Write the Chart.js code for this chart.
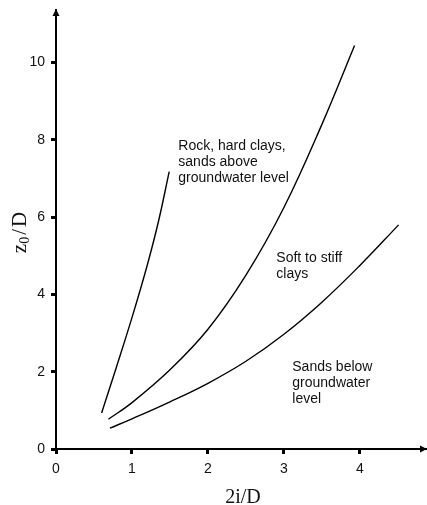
<!DOCTYPE html>
<html>
<head>
<meta charset="utf-8">
<script src="https://cdn.jsdelivr.net/npm/chart.js@4.4.1/dist/chart.umd.min.js"></script>
<style>
  body { margin: 0; background: #fff; }
  #wrap { width: 427px; height: 505px; position: relative; }
</style>
</head>
<body>
<div id="wrap"><canvas id="chart"></canvas></div>
<script>
// tick labels
const xTicks = [0, 1, 2, 3, 4];
const yTicks = [0, 2, 4, 6, 8, 10];

// curves (2i/D, z0/D)
const rockX = [0.60, 0.80, 1.00, 1.20, 1.35, 1.49];
const rockY = [0.93, 2.15, 3.40, 4.75, 5.90, 7.18];
const softX = [0.69, 1.00, 1.50, 2.00, 2.50, 3.00, 3.50, 3.93];
const softY = [0.77, 1.20, 2.05, 3.10, 4.50, 6.25, 8.40, 10.44];
const sandX = [0.71, 1.00, 1.50, 2.00, 2.50, 3.00, 3.50, 4.00, 4.51];
const sandY = [0.54, 0.78, 1.22, 1.70, 2.27, 2.97, 3.80, 4.75, 5.80];

const rockLabel = ['Rock, hard clays,', 'sands above', 'groundwater level'];
const softLabel = ['Soft to stiff', 'clays'];
const sandLabel = ['Sands below', 'groundwater', 'level'];

const SANS = '"Liberation Sans", Arial, sans-serif';
const SERIF = '"Liberation Serif", "Times New Roman", serif';

function toPoints(xs, ys) {
    return xs.map((v, i) => ({ x: v, y: ys[i] }));
}

function curve(xs, ys) {
    return {
        data: toPoints(xs, ys),
        showLine: true,
        borderColor: '#000',
        borderWidth: 1.4,
        pointRadius: 0,
        tension: 0.4,
        fill: false
    };
}

// notes are anchored in data units
const notes = [
    { lines: rockLabel, x: 1.61, y: 7.74 },
    { lines: softLabel, x: 2.90, y: 4.85 },
    { lines: sandLabel, x: 3.11, y: 2.03 }
];

const overlay = {
    id: 'overlay',
    afterDraw(chart) {
        const { ctx, chartArea: a, scales } = chart;
        ctx.save();
        ctx.fillStyle = '#000';

        // arrow heads
        ctx.beginPath();
        ctx.moveTo(a.left, a.top - 1);
        ctx.lineTo(a.left - 3.5, a.top + 6);
        ctx.lineTo(a.left + 3.5, a.top + 6);
        ctx.closePath();
        ctx.fill();
        ctx.beginPath();
        ctx.moveTo(a.right + 1, a.bottom);
        ctx.lineTo(a.right - 6, a.bottom - 3.5);
        ctx.lineTo(a.right - 6, a.bottom + 3.5);
        ctx.closePath();
        ctx.fill();

        // curve notes
        ctx.fillStyle = '#111';
        ctx.font = '14px ' + SANS;
        ctx.textAlign = 'left';
        ctx.textBaseline = 'alphabetic';
        notes.forEach(n => {
            const px = scales.x.getPixelForValue(n.x);
            const py = scales.y.getPixelForValue(n.y);
            n.lines.forEach((t, i) => ctx.fillText(t, px, py + i * 16));
        });

        // x title
        ctx.font = '20px ' + SERIF;
        ctx.textAlign = 'center';
        ctx.fillText('2i/D', (a.left + a.right) / 2 + 2, 503);

        // y title, rotated, with subscript
        ctx.translate(26, (a.top + a.bottom) / 2 + 3);
        ctx.rotate(-Math.PI / 2);
        ctx.textAlign = 'left';
        const parts = [
            { t: 'z', f: '21px ', dy: 0 },
            { t: '0', f: '14px ', dy: 3 },
            { t: '/', f: '21px ', dy: 0, pad: 2 },
            { t: 'D', f: '21px ', dy: 0, pad: 2 }
        ];
        let w = 0;
        parts.forEach(p => { ctx.font = p.f + SERIF; w += ctx.measureText(p.t).width + (p.pad || 0); });
        let cx = -w / 2;
        parts.forEach(p => {
            ctx.font = p.f + SERIF;
            cx += (p.pad || 0);
            ctx.fillText(p.t, cx, p.dy);
            cx += ctx.measureText(p.t).width;
        });
        ctx.restore();
    }
};

new Chart(document.getElementById('chart'), {
    type: 'scatter',
    data: {
        datasets: [curve(rockX, rockY), curve(softX, softY), curve(sandX, sandY)]
    },
    options: {
        responsive: true,
        maintainAspectRatio: false,
        animation: false,
        layout: { padding: { top: 10, right: 1, left: 0, bottom: 0 } },
        plugins: {
            legend: { display: false },
            tooltip: { enabled: false }
        },
        scales: {
            x: {
                type: 'linear',
                min: 0,
                max: 4.87,
                afterBuildTicks: s => { s.ticks = xTicks.map(v => ({ value: v })); },
                afterFit: s => { s.height = 56; s.paddingLeft = 0; s.paddingRight = 0; },
                border: { display: true, color: '#000', width: 2 },
                grid: { drawOnChartArea: false, drawTicks: true, tickLength: 5, tickWidth: 3, tickColor: '#000' },
                ticks: { color: '#111', font: { size: 14, family: SANS }, padding: 7, maxRotation: 0 }
            },
            y: {
                type: 'linear',
                min: 0,
                max: 11.36,
                afterBuildTicks: s => { s.ticks = yTicks.map(v => ({ value: v })); },
                afterFit: s => { s.width = 56; s.paddingTop = 0; s.paddingBottom = 0; },
                border: { display: true, color: '#000', width: 2 },
                grid: { drawOnChartArea: false, drawTicks: true, tickLength: 5, tickWidth: 3, tickColor: '#000' },
                ticks: { color: '#111', font: { size: 14, family: SANS }, padding: 6 }
            }
        }
    },
    plugins: [overlay]
});
</script>
</body>
</html>
